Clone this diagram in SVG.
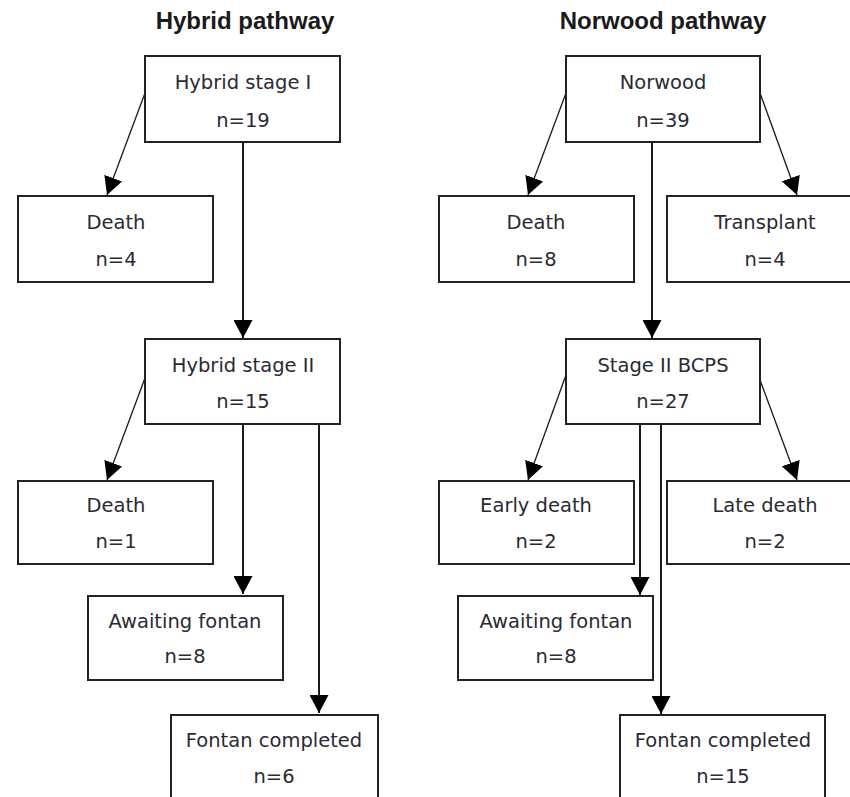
<svg xmlns="http://www.w3.org/2000/svg" width="850" height="797" viewBox="0 0 850 797">
<style>
.box{fill:#fff;stroke:#222;stroke-width:2}
.t{font-family:"DejaVu Sans","Liberation Sans",sans-serif;font-size:19.5px;fill:#2a2a33;text-anchor:middle}
.h{font-family:"Liberation Sans",Arial,sans-serif;font-size:24px;font-weight:bold;fill:#1a1a1a;text-anchor:middle}
.c{stroke:#1a1a1a;fill:none}
.v{stroke-width:2}
.d{stroke-width:1.3}
</style>
<defs>
<marker id="ah" markerUnits="userSpaceOnUse" markerWidth="19" markerHeight="19" refX="18" refY="9.5" orient="auto" viewBox="0 0 19 19">
<path d="M0,0 L18,9.5 L0,19 z" fill="#000"/>
</marker>
</defs>
<rect width="850" height="797" fill="#fff"/>
<text class="h" x="245" y="29">Hybrid pathway</text>
<text class="h" x="663" y="29">Norwood pathway</text>
<g id="connectors">
<line class="c d" x1="145" y1="93" x2="107" y2="195" marker-end="url(#ah)"/>
<line class="c v" x1="243" y1="142" x2="243" y2="338" marker-end="url(#ah)"/>
<line class="c d" x1="145" y1="378" x2="107" y2="480" marker-end="url(#ah)"/>
<line class="c v" x1="243" y1="424" x2="243" y2="594" marker-end="url(#ah)"/>
<line class="c v" x1="319" y1="424" x2="319" y2="713" marker-end="url(#ah)"/>
<line class="c d" x1="566" y1="93" x2="528" y2="195" marker-end="url(#ah)"/>
<line class="c d" x1="760" y1="93" x2="797" y2="195" marker-end="url(#ah)"/>
<line class="c v" x1="652" y1="142" x2="652" y2="338" marker-end="url(#ah)"/>
<line class="c d" x1="566" y1="375" x2="528" y2="480" marker-end="url(#ah)"/>
<line class="c d" x1="760" y1="380" x2="797" y2="480" marker-end="url(#ah)"/>
<line class="c v" x1="640" y1="424" x2="640" y2="595" marker-end="url(#ah)"/>
<line class="c v" x1="661" y1="424" x2="661" y2="714" marker-end="url(#ah)"/>
</g>
<g id="hybrid1"><rect class="box" x="145" y="56" width="195" height="86"/><text class="t" x="243" y="89">Hybrid stage I</text><text class="t" x="243" y="127">n=19</text></g>
<g id="hdeath1"><rect class="box" x="18" y="196" width="195" height="86"/><text class="t" x="116" y="229">Death</text><text class="t" x="116" y="266">n=4</text></g>
<g id="hybrid2"><rect class="box" x="145" y="339" width="195" height="85"/><text class="t" x="243" y="372">Hybrid stage II</text><text class="t" x="243" y="408">n=15</text></g>
<g id="hdeath2"><rect class="box" x="18" y="481" width="195" height="83"/><text class="t" x="116" y="512">Death</text><text class="t" x="116" y="548">n=1</text></g>
<g id="hawait"><rect class="box" x="88" y="596" width="195" height="84"/><text class="t" x="185" y="628">Awaiting fontan</text><text class="t" x="185" y="663">n=8</text></g>
<g id="hfontan"><rect class="box" x="171" y="715" width="207" height="100"/><text class="t" x="274" y="747">Fontan completed</text><text class="t" x="274" y="783">n=6</text></g>
<g id="norwood"><rect class="box" x="566" y="56" width="194" height="86"/><text class="t" x="663" y="89">Norwood</text><text class="t" x="663" y="127">n=39</text></g>
<g id="ndeath"><rect class="box" x="439" y="196" width="195" height="86"/><text class="t" x="536" y="229">Death</text><text class="t" x="536" y="266">n=8</text></g>
<g id="transplant"><rect class="box" x="667" y="196" width="195" height="86"/><text class="t" x="765" y="229">Transplant</text><text class="t" x="765" y="266">n=4</text></g>
<g id="bcps"><rect class="box" x="566" y="339" width="194" height="85"/><text class="t" x="663" y="372">Stage II BCPS</text><text class="t" x="663" y="408">n=27</text></g>
<g id="earlydeath"><rect class="box" x="439" y="481" width="195" height="83"/><text class="t" x="536" y="512">Early death</text><text class="t" x="536" y="548">n=2</text></g>
<g id="latedeath"><rect class="box" x="667" y="481" width="195" height="83"/><text class="t" x="765" y="512">Late death</text><text class="t" x="765" y="548">n=2</text></g>
<g id="nawait"><rect class="box" x="458" y="596" width="195" height="84"/><text class="t" x="556" y="628">Awaiting fontan</text><text class="t" x="556" y="663">n=8</text></g>
<g id="nfontan"><rect class="box" x="620" y="715" width="205" height="100"/><text class="t" x="723" y="747">Fontan completed</text><text class="t" x="723" y="783">n=15</text></g>
</svg>
